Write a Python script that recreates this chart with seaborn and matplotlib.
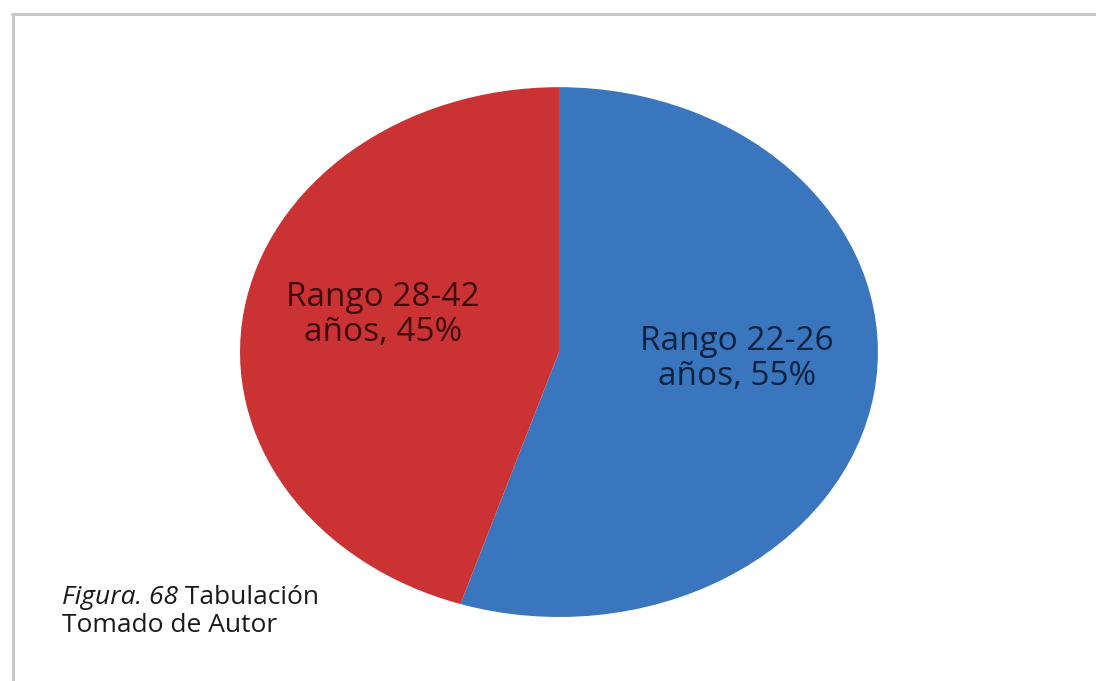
import matplotlib
matplotlib.use("Agg")
import matplotlib.pyplot as plt
from matplotlib.lines import Line2D
import seaborn as sns

# Age-range distribution
categories = ["Rango 22-26\naños", "Rango 28-42\naños"]
shares = [55, 45]
slice_colors = ["#3a76bd", "#cb3234"]
label_colors = ["#0c2240", "#3e0b0c"]
caption_italic = "Figura. 68"
caption_rest = " Tabulación"
caption_line2 = "Tomado de Autor"

sns.set_theme(style="white")
plt.rcParams["font.family"] = ["Open Sans", "DejaVu Sans"]

fig = plt.figure(figsize=(10.96, 6.81), dpi=100)
fig.patch.set_facecolor("white")

# Frame lines along the top and left edges
fig.add_artist(Line2D([0.0118, 0.0118], [0.0, 0.9795], color="#c8c8c8", lw=2.2))
fig.add_artist(Line2D([0.0105, 1.0], [0.9795, 0.9795], color="#c8c8c8", lw=2.2))

ax = fig.add_axes([0.219, 0.094, 0.582, 0.778])
wedges, _ = ax.pie(
    shares,
    colors=slice_colors,
    startangle=90,
    counterclock=False,
    radius=1.0,
    wedgeprops=dict(edgecolor="none", linewidth=0),
)
ax.set_aspect("auto")
ax.set_xlim(-1, 1)
ax.set_ylim(-1, 1)
ax.axis("off")

# Data labels placed inside each slice
label_pos = [(0.558, -0.026), (-0.552, 0.14)]
for cat, val, col, (lx, ly) in zip(categories, shares, label_colors, label_pos):
    ax.text(lx, ly, f"{cat}, {val}%", ha="center", va="center",
            fontsize=24, fontweight="medium", color=col, linespacing=1.1)

# Caption in the lower-left corner
cap_size = 19
t1 = fig.text(0.057, 0.123, caption_italic, fontsize=cap_size, style="italic",
              color="#1a1a1a", ha="left", va="center")
fig.canvas.draw()
bb = t1.get_window_extent()
fig.text(bb.x1 / fig.bbox.width, 0.123, caption_rest, fontsize=cap_size,
         color="#1a1a1a", ha="left", va="center")
fig.text(0.057, 0.082, caption_line2, fontsize=cap_size, color="#1a1a1a",
         ha="left", va="center")

fig.savefig("out.png", dpi=100, facecolor="white")
